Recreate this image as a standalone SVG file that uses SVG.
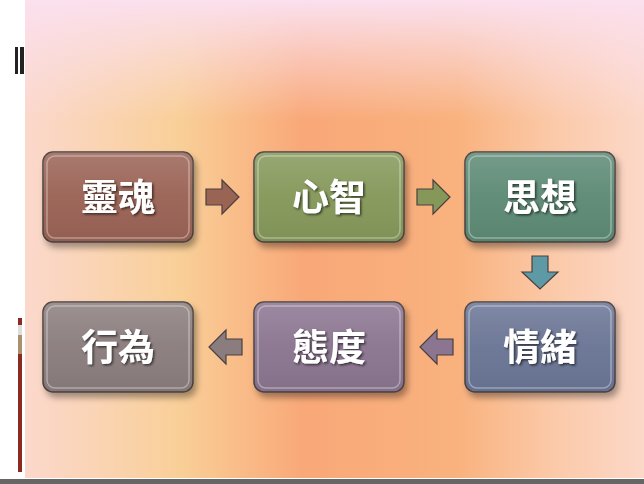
<svg xmlns="http://www.w3.org/2000/svg" width="644" height="484" viewBox="0 0 644 484">
<defs>
<linearGradient id="bg" x1="0" y1="0" x2="1" y2="0">
<stop offset="0" stop-color="#fbd8cc"/><stop offset="0.25" stop-color="#f9cf98"/><stop offset="0.45" stop-color="#f9a878"/><stop offset="0.7" stop-color="#f9b27e"/><stop offset="0.85" stop-color="#fbc9a8"/><stop offset="1" stop-color="#fcd8c8"/>
</linearGradient>
<linearGradient id="top" x1="0" y1="0" x2="0" y2="1">
<stop offset="0" stop-color="#fbe0ee"/><stop offset="0.25" stop-color="#fbe0ee" stop-opacity="0"/>
</linearGradient>
<linearGradient id="gloss" x1="0" y1="0" x2="0" y2="1">
<stop offset="0" stop-color="#fff" stop-opacity="0.15"/><stop offset="0.5" stop-color="#fff" stop-opacity="0.03"/><stop offset="1" stop-color="#000" stop-opacity="0.05"/>
</linearGradient>
<filter id="sh" x="-10%" y="-10%" width="130%" height="140%"><feDropShadow dx="3" dy="5" stdDeviation="3" flood-opacity="0.35"/></filter>
<filter id="ts"><feDropShadow dx="1.5" dy="1.5" stdDeviation="0.8" flood-opacity="0.6"/></filter>
</defs>
<style>
.box{stroke:#4a4040;stroke-width:1.5}
.in{fill:none;stroke:#fff;stroke-opacity:0.35;stroke-width:1.5}
.t{font-family:"Noto Sans CJK TC","Noto Sans CJK SC",sans-serif;font-size:37px;font-weight:bold;fill:#fff;text-anchor:middle;filter:url(#ts)}
.ar{stroke:#4a4040;stroke-width:1.2}
</style>
<rect width="644" height="484" fill="#fff"/>
<rect x="25" y="0" width="619" height="478" fill="url(#bg)"/>
<rect x="25" y="0" width="619" height="478" fill="url(#top)"/>
<rect x="0" y="479" width="644" height="5" fill="#666"/>
<rect x="15" y="47" width="3" height="27" fill="#222"/><rect x="20" y="47" width="4" height="27" fill="#222"/>
<rect x="18" y="318" width="4" height="7" fill="#8b2a22"/>
<rect x="18" y="325" width="4" height="10" fill="#ddd"/>
<rect x="18" y="335" width="4" height="19" fill="#a89070"/>
<rect x="18" y="354" width="4" height="118" fill="#8b2a22"/>
<g id="n1"><rect class="box" x="43" y="152" width="150" height="90" rx="10" fill="#9a6454" filter="url(#sh)"/><rect x="43" y="152" width="150" height="90" rx="10" fill="url(#gloss)"/><rect class="in" x="47" y="156" width="142" height="82" rx="8"/><text class="t" x="118" y="211">靈魂</text></g>
<g id="n2"><rect class="box" x="254" y="152" width="150" height="90" rx="10" fill="#85985a" filter="url(#sh)"/><rect x="254" y="152" width="150" height="90" rx="10" fill="url(#gloss)"/><rect class="in" x="258" y="156" width="142" height="82" rx="8"/><text class="t" x="329" y="211">心智</text></g>
<g id="n3"><rect class="box" x="465" y="152" width="150" height="90" rx="10" fill="#5d8a75" filter="url(#sh)"/><rect x="465" y="152" width="150" height="90" rx="10" fill="url(#gloss)"/><rect class="in" x="469" y="156" width="142" height="82" rx="8"/><text class="t" x="540" y="211">思想</text></g>
<g id="n4"><rect class="box" x="465" y="302" width="150" height="90" rx="10" fill="#6b7595" filter="url(#sh)"/><rect x="465" y="302" width="150" height="90" rx="10" fill="url(#gloss)"/><rect class="in" x="469" y="306" width="142" height="82" rx="8"/><text class="t" x="540" y="361">情緒</text></g>
<g id="n5"><rect class="box" x="254" y="302" width="150" height="90" rx="10" fill="#8b7590" filter="url(#sh)"/><rect x="254" y="302" width="150" height="90" rx="10" fill="url(#gloss)"/><rect class="in" x="258" y="306" width="142" height="82" rx="8"/><text class="t" x="329" y="361">態度</text></g>
<g id="n6"><rect class="box" x="43" y="302" width="150" height="90" rx="10" fill="#8b7d7d" filter="url(#sh)"/><rect x="43" y="302" width="150" height="90" rx="10" fill="url(#gloss)"/><rect class="in" x="47" y="306" width="142" height="82" rx="8"/><text class="t" x="118" y="361">行為</text></g>
<g id="connectors">
<polygon class="ar" fill="#9a6454" points="206,189 222,189 222,180 239,197 222,214 222,205 206,205"/>
<polygon class="ar" fill="#85985a" points="417,189 433,189 433,180 450,197 433,214 433,205 417,205"/>
<polygon class="ar" fill="#5d9aa5" points="532,256 548,256 548,272 558,272 540,289 522,272 532,272"/>
<polygon class="ar" fill="#8b7590" points="453,339 437,339 437,330 420,347 437,364 437,355 453,355"/>
<polygon class="ar" fill="#8b7d7d" points="242,339 226,339 226,330 209,347 226,364 226,355 242,355"/>
</g>
</svg>
